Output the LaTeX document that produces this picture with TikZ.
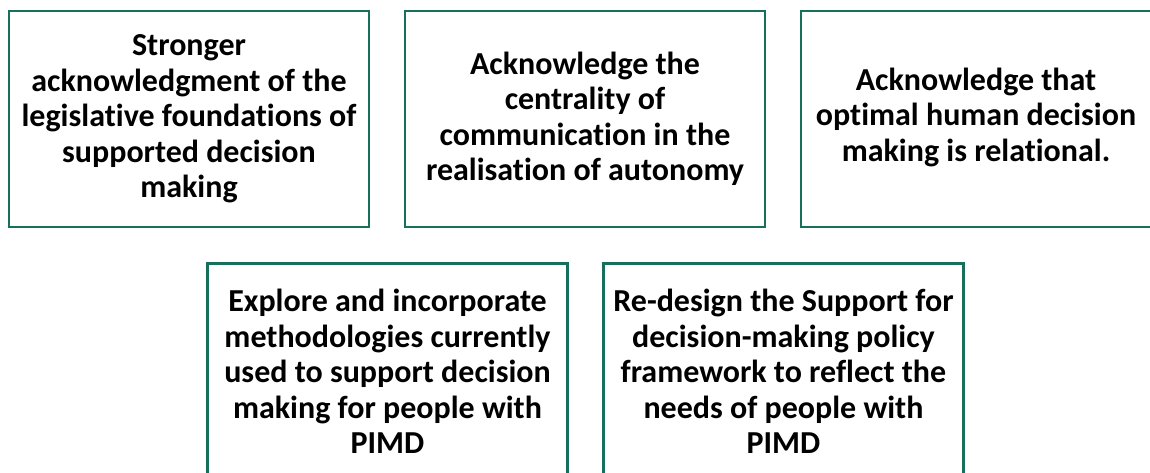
\documentclass[tikz,border=0pt]{standalone}
\usepackage{fontspec}
\setmainfont{Carlito}[RawFeature=-liga]
\definecolor{boxline}{RGB}{22,112,92}
\begin{document}
\begin{tikzpicture}[x=1pt,y=-1pt,
  panel/.style={draw=boxline, line width=2.4pt, minimum width=360pt, minimum height=216pt,
    inner sep=0pt, align=center, font=\fontsize{32}{35.5}\selectfont\bfseries, text=black},
  label/.style={inner sep=0pt, align=center, font=\fontsize{32}{35.5}\selectfont\bfseries, text=black}]
\useasboundingbox (0,0) rectangle (1150,473);
\clip (0,0) rectangle (1150,473);
% top row
\node[panel] (b1) at (189,119) {Stronger\\acknowledgment of the\\legislative foundations of\\supported decision\\making};
\node[panel] (b2) at (585,119) {Acknowledge the\\centrality of\\communication in the\\realisation of autonomy};
\node[panel] (b3) at (981,119) {};
\node[label] (b3text) at (976,117) {Acknowledge that\\optimal human decision\\making is relational.};
% bottom row
\node[panel] (b4) at (387.5,371.5) {Explore and incorporate\\methodologies currently\\used to support decision\\making for people with\\PIMD};
\node[panel] (b5) at (783.5,371.5) {Re-design the Support for\\decision-making policy\\framework to reflect the\\needs of people with\\PIMD};
\end{tikzpicture}
\end{document}
